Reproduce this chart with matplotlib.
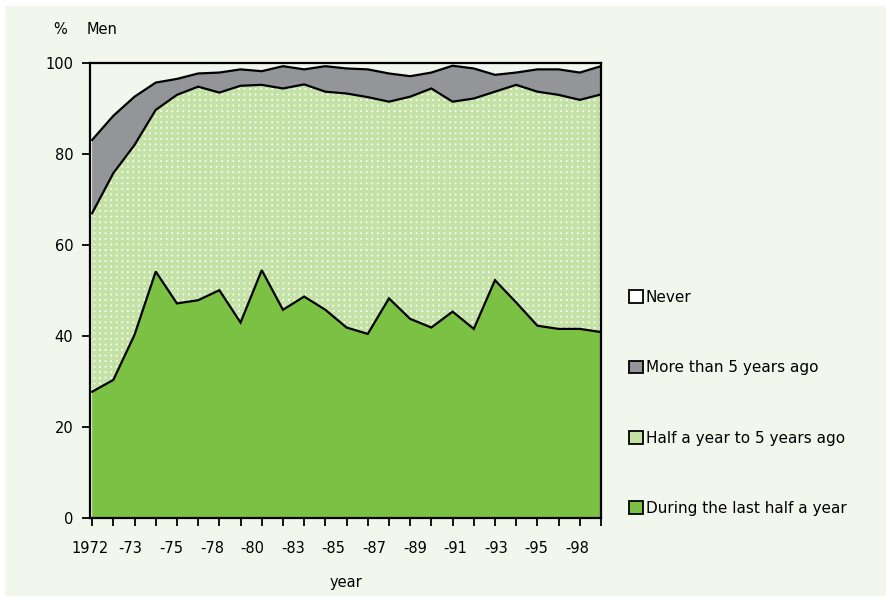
import numpy as np
import matplotlib
matplotlib.use("Agg")
import matplotlib.pyplot as plt
from matplotlib.patches import Rectangle, Patch

plt.rcParams["font.family"] = ["DejaVu Sans"]
plt.rcParams["hatch.linewidth"] = 2.6

# survey rounds (25 points), every second one labelled
tick_labels = ["1972", "-73", "-75", "-78", "-80", "-83", "-85", "-87", "-89",
               "-91", "-93", "-95", "-98"]
n_points = 25

# shares in %
last_half = [27.8, 30.4, 40.3, 54.2, 47.2, 47.9, 50.1, 43.0, 54.5, 45.8, 48.7, 45.8, 41.9,
             40.5, 48.3, 43.8, 41.9, 45.4, 41.6, 52.3, 47.4, 42.3, 41.6, 41.6, 40.9]
half_to_5 = [39.2, 45.4, 41.7, 35.5, 45.8, 46.9, 43.4, 52.0, 40.7, 48.6, 46.6, 47.9, 51.4,
             52.0, 43.2, 48.8, 52.5, 46.1, 50.6, 41.4, 47.8, 51.4, 51.4, 50.3, 52.2]
more_than_5 = [16.1, 12.6, 10.6, 6.0, 3.5, 2.9, 4.4, 3.6, 3.0, 4.9, 3.3, 5.6, 5.5,
               6.1, 6.2, 4.5, 3.5, 7.9, 6.6, 3.7, 2.7, 4.9, 5.6, 6.0, 6.2]
never = [16.9, 11.6, 7.4, 4.3, 3.5, 2.3, 2.1, 1.4, 1.8, 0.7, 1.4, 0.7, 1.2,
         1.4, 2.3, 2.9, 2.1, 0.6, 1.2, 2.6, 2.1, 1.4, 1.4, 2.1, 0.7]

BG = "#f2f7ee"
DARK = "#7bc143"
GREY = "#939598"
LIGHT = "#c4e2a6"
PALE = "#f6faf2"

x = np.arange(n_points)
c1 = np.array(last_half)
c2 = c1 + np.array(half_to_5)
c3 = c2 + np.array(more_than_5)
c4 = c3 + np.array(never)

fig = plt.figure(figsize=(8.91, 6.01), dpi=100, facecolor="white")
fig.patches.append(Rectangle((5 / 891, 5 / 601), 881 / 891, 590 / 601, transform=fig.transFigure,
                             facecolor=BG, edgecolor="none", zorder=-10))
ax = fig.add_axes([90 / 891, 1 - 518.3 / 601, 511 / 891, 455.3 / 601])
ax.set_facecolor(BG)

ax.fill_between(x, 0, c1, facecolor=DARK, edgecolor="none", zorder=1)
ax.fill_between(x, c1, c2, facecolor=PALE, edgecolor=LIGHT, hatch="+++", linewidth=0, zorder=1)
ax.fill_between(x, c2, c3, facecolor=GREY, edgecolor="none", zorder=1)
ax.fill_between(x, c3, c4, facecolor=BG, edgecolor="none", zorder=1)
for c in (c1, c2, c3):
    ax.plot(x, c, color="black", lw=1.6, zorder=3, solid_joinstyle="miter")

ax.set_xlim(0, n_points - 1)
ax.set_ylim(0, 100)
for s in ax.spines.values():
    s.set_linewidth(1.6)
    s.set_zorder(4)
ax.set_yticks(np.arange(0, 101, 20))
ax.tick_params(axis="y", direction="out", length=6, width=1.3, labelsize=10.5, pad=6)
ax.set_xticks(x)
ax.set_xticklabels([])
ax.tick_params(axis="x", which="major", direction="out", length=6, width=1.3)
label_pos = np.arange(len(tick_labels)) * 1.915 - 0.1
ax.set_xticks(label_pos, minor=True)
ax.set_xticklabels(tick_labels, minor=True)
ax.tick_params(axis="x", which="minor", length=0, labelsize=10.5, pad=16)

ax.set_xlabel("year", fontsize=10.5, labelpad=14)
fig.text(60 / 891, 1 - 29 / 601, "%", fontsize=10.5, ha="center", va="center")
fig.text(87 / 891, 1 - 29 / 601, "Men", fontsize=10.5, ha="left", va="center")

handles = [Patch(facecolor="white", edgecolor="black", lw=1.3),
           Patch(facecolor=GREY, edgecolor="black", lw=1.3),
           Patch(facecolor=LIGHT, edgecolor="black", lw=1.3),
           Patch(facecolor=DARK, edgecolor="black", lw=1.3)]
labels = ["Never", "More than 5 years ago", "Half a year to 5 years ago", "During the last half a year"]
fig.legend(handles, labels, loc="upper left", bbox_to_anchor=(629 / 891, 1 - 290 / 601),
           frameon=False, fontsize=11, handlelength=0.9, handleheight=0.9, handletextpad=0.2,
           labelspacing=3.62, borderaxespad=0, borderpad=0)

fig.savefig("out.png", dpi=100, facecolor="white")
